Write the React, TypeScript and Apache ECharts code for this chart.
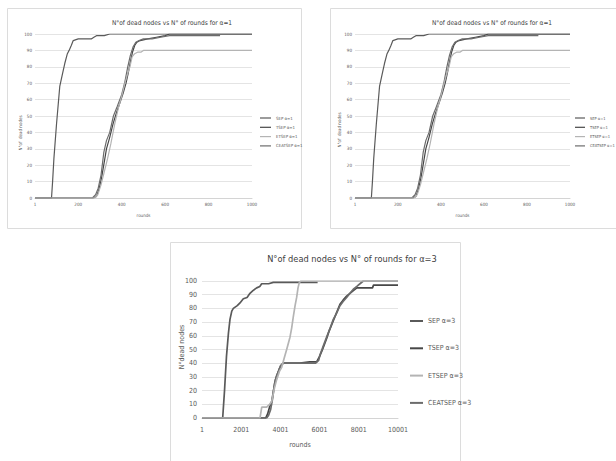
import React, { useEffect, useRef } from "react";
import * as echarts from "echarts";

const FONT = '"Liberation Sans Narrow", "DejaVu Sans Condensed", "Arial Narrow", sans-serif';

// ---- α=1 charts (top, shown twice) ----
const namesA1 = ["SEP α=1", "TSEP α=1", "ETSEP α=1", "CEATSEP α=1"];
const topTitle = "N°of dead nodes vs N° of rounds for α=1";
const topRoundTicks = [1, 200, 400, 600, 800, 1000];

const sepA1: [number, number][] = [
  [1, 0], [77, 0], [82, 10], [88, 24], [100, 45], [115, 68], [128, 76], [138, 82], [150, 88],
  [158, 90], [168, 93], [177, 96], [200, 97], [260, 97], [272, 98], [284, 99], [320, 99], [345, 100], [1000, 100],
];
const tsepA1: [number, number][] = [
  [1, 0], [270, 0], [284, 1], [295, 5], [307, 12], [320, 22], [330, 30], [345, 37], [360, 45],
  [376, 52], [392, 58], [407, 64], [420, 70], [430, 76], [440, 83], [450, 89], [460, 93],
  [470, 95], [485, 96], [520, 97], [560, 98], [600, 99], [620, 100], [1000, 100],
];
const etsepA1: [number, number][] = [
  [1, 0], [275, 0], [290, 2], [305, 8], [320, 16], [335, 24], [350, 33], [368, 45], [385, 55],
  [400, 62], [415, 70], [428, 76], [438, 80], [448, 86], [460, 88], [475, 89], [490, 89], [500, 90], [1000, 90],
];
const ceatsepA1: [number, number][] = [
  [1, 0], [265, 0], [280, 2], [292, 6], [305, 14], [318, 28], [330, 35], [345, 40], [362, 50],
  [380, 56], [400, 63], [415, 71], [428, 80], [440, 87], [452, 92], [465, 95], [480, 96],
  [500, 97], [540, 97], [580, 98], [620, 99], [853, 99],
];

// ---- α=3 chart (bottom) ----
const namesA3 = ["SEP α=3", "TSEP α=3", "ETSEP α=3", "CEATSEP α=3"];
const bottomTitle = "N°of dead nodes vs N° of rounds for α=3";
const bottomRoundTicks = [1, 2001, 4001, 6001, 8001, 10001];

const sepA3: [number, number][] = [
  [1, 0], [1056, 0], [1150, 20], [1250, 45], [1350, 62], [1429, 72], [1520, 78], [1600, 80],
  [1800, 82], [1939, 84], [2109, 87], [2300, 88], [2449, 91], [2600, 93], [2790, 95], [2950, 96],
  [3045, 98], [3400, 98], [3640, 99], [5900, 99],
];
const tsepA3: [number, number][] = [
  [1, 0], [3250, 0], [3350, 3], [3450, 8], [3556, 12], [3650, 20], [3750, 28], [3850, 32],
  [3950, 36], [4066, 39], [4150, 40], [5000, 40], [5500, 41], [5850, 41], [6000, 45], [6150, 50],
  [6360, 58], [6500, 64], [6700, 71], [6900, 78], [7041, 83], [7200, 86], [7381, 89], [7550, 91],
  [7721, 93], [7900, 95], [8700, 95], [8750, 97], [10001, 97],
];
const etsepA3: [number, number][] = [
  [1, 0], [2959, 0], [3050, 8], [3300, 8], [3450, 10], [3556, 12], [3700, 22], [3811, 28],
  [3950, 34], [4066, 37], [4200, 44], [4321, 50], [4490, 59], [4580, 66], [4660, 74], [4750, 82],
  [4830, 88], [4900, 95], [4966, 99], [5050, 100], [10001, 100],
];
const ceatsepA3: [number, number][] = [
  [1, 0], [3300, 0], [3400, 2], [3500, 6], [3600, 14], [3700, 25], [3811, 31], [3900, 34],
  [4000, 38], [4150, 40], [4500, 40], [5200, 40], [5800, 40], [5950, 42], [6020, 46], [6200, 53],
  [6360, 59], [6550, 66], [6700, 72], [6850, 76], [7041, 82], [7200, 85], [7381, 88], [7550, 91],
  [7721, 94], [7900, 96], [8061, 98], [8231, 100], [10001, 100],
];

const COLORS = ["#5a5a5a", "#474747", "#b4b4b4", "#6c6c6c"];
const LABEL = "#595959";

function txt(x: number, y: number, text: string, size: number, rot = 0, color = "#404040") {
  return {
    type: "text",
    x,
    y,
    rotation: rot,
    silent: true,
    style: {
      text,
      font: `${size}px ${FONT}`,
      fill: color,
      align: "center",
      verticalAlign: "middle",
      textAlign: "center",
      textVerticalAlign: "middle",
    },
  };
}

function xAxisCfg(gi: number, min: number, max: number, ticks: number[], fs: number, gap: number) {
  return {
    type: "value",
    gridIndex: gi,
    min,
    max,
    name: "rounds",
    nameLocation: "middle",
    nameGap: gap,
    nameTextStyle: { fontSize: fs, fontFamily: FONT, color: LABEL },
    axisLine: { show: true, lineStyle: { color: "#d4d4d4", width: 1 } },
    axisTick: { show: false },
    splitLine: { show: false },
    axisLabel: {
      customValues: ticks,
      formatter: (v: number) => String(v),
      fontSize: fs,
      fontFamily: FONT,
      color: LABEL,
      margin: gi === 2 ? 8 : 4,
    },
  };
}

function yAxisCfg(gi: number, fs: number) {
  return {
    type: "value",
    gridIndex: gi,
    min: 0,
    max: 100,
    interval: 10,
    axisLine: { show: false },
    axisTick: { show: false },
    splitLine: { show: true, lineStyle: { color: "#e4e4e4", width: 1 } },
    axisLabel: { fontSize: fs, fontFamily: FONT, color: LABEL, margin: gi === 2 ? 5 : 3 },
  };
}

function lines(names: string[], data: [number, number][][], gi: number, width: number) {
  return names.map((n, i) => ({
    type: "line",
    name: n,
    xAxisIndex: gi,
    yAxisIndex: gi,
    data: data[i],
    symbol: "none",
    showSymbol: false,
    color: COLORS[i],
    lineStyle: { width, color: COLORS[i] },
    z: i === 2 ? 3 : 2,
  }));
}

function legendCfg(names: string[], left: number, top: number, fs: number, iw: number, ih: number, lh: number, gap: number) {
  return {
    data: names,
    orient: "vertical",
    left,
    top,
    padding: 0,
    icon: "rect",
    itemWidth: iw,
    itemHeight: ih,
    itemGap: gap,
    selectedMode: false,
    textStyle: { fontSize: fs, fontFamily: FONT, color: LABEL, lineHeight: lh },
  };
}

export default function App() {
  const ref = useRef<HTMLDivElement>(null);
  useEffect(() => {
    if (!ref.current) return;
    const chart = echarts.init(ref.current, null, { renderer: "svg" });
    const topData = [sepA1, tsepA1, etsepA1, ceatsepA1];
    const botData = [sepA3, tsepA3, etsepA3, ceatsepA3];
    chart.setOption({
      animation: false,
      backgroundColor: "#ffffff",
      grid: [
        { left: 35, top: 34, width: 217, height: 164 },
        { left: 355, top: 34, width: 215, height: 164 },
        { left: 202, top: 281, width: 196, height: 137 },
      ],
      xAxis: [
        xAxisCfg(0, 1, 1000, topRoundTicks, 4.5, 15),
        xAxisCfg(1, 1, 1000, topRoundTicks, 4.5, 15),
        xAxisCfg(2, 1, 10001, bottomRoundTicks, 7, 23),
      ],
      yAxis: [yAxisCfg(0, 4.5), yAxisCfg(1, 4.5), yAxisCfg(2, 7)],
      legend: [
        legendCfg(namesA1, 260, 115, 4.3, 11, 1.2, 6, 3.3),
        legendCfg(namesA1, 575, 115, 4.0, 10, 1.2, 6, 3.3),
        legendCfg(namesA3, 410, 317, 7, 13, 2, 8, 19.3),
      ],
      graphic: [
        { type: "rect", silent: true, shape: { x: 7.5, y: 8.5, width: 294, height: 220 }, style: { fill: "none", stroke: "#dcdcdc", lineWidth: 1 } },
        { type: "rect", silent: true, shape: { x: 330.5, y: 8.5, width: 300, height: 220 }, style: { fill: "none", stroke: "#dcdcdc", lineWidth: 1 } },
        { type: "rect", silent: true, shape: { x: 170.5, y: 242.5, width: 290, height: 230 }, style: { fill: "none", stroke: "#dcdcdc", lineWidth: 1 } },
        txt(172, 23, topTitle, 6.5),
        txt(492, 23, topTitle, 6.5),
        txt(352, 258, bottomTitle, 9.2),
        txt(20, 133, "N°of  dead nodes", 4.5, Math.PI / 2, LABEL),
        txt(339, 130, "N°of  dead nodes", 4.5, Math.PI / 2, LABEL),
        txt(182, 347, "N°dead nodes", 7, Math.PI / 2, LABEL),
      ],
      series: [
        ...lines(namesA1, topData, 0, 1.2),
        ...lines(namesA1, topData, 1, 1.2),
        ...lines(namesA3, botData, 2, 1.7),
      ],
    });
    return () => chart.dispose();
  }, []);
  return (
    <div
      ref={ref}
      style={{ position: "fixed", left: 0, top: 0, width: 616, height: 461, background: "#fff" }}
    />
  );
}
